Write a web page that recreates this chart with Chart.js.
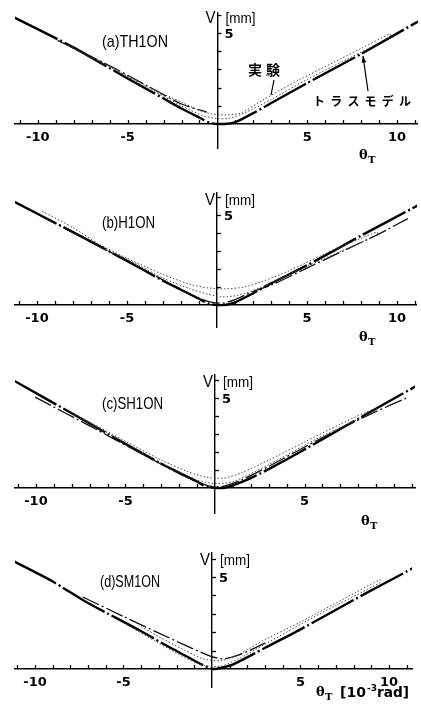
<!DOCTYPE html>
<html><head><meta charset="utf-8">
<script src="https://cdn.jsdelivr.net/npm/chart.js@4/dist/chart.umd.min.js"></script>
<style>
html,body{margin:0;padding:0;background:#fff;}
body{width:421px;height:711px;position:relative;overflow:hidden;}
.p{position:absolute;left:0;width:421px;}
canvas{display:block;}
</style></head><body>
<div class="p" style="top:0px"><canvas id="ca" width="421" height="181"></canvas></div>
<div class="p" style="top:181px"><canvas id="cb" width="421" height="183"></canvas></div>
<div class="p" style="top:364px"><canvas id="cc" width="421" height="181"></canvas></div>
<div class="p" style="top:545px"><canvas id="cd" width="421" height="166"></canvas></div>
<script>
// ---------- data (θT in 10^-3 rad, V in mm) ----------
const titles = ['(a)TH1ON', '(b)H1ON', '(c)SH1ON', '(d)SM1ON'];
const seriesNames = ['トラスモデル', 'トラスモデル(2)', '実験'];

const xTickPosA = [-10, -5, 5, 10], xTickTextA = ['-10', '-5', '5', '10'];
const xTickPosB = [-10, -5, 5, 10], xTickTextB = ['-10', '-5', '5', '10'];
const xTickPosC = [-10, -5, 5],     xTickTextC = ['-10', '-5', '5'];
const xTickPosD = [-10, -5, 5, 10], xTickTextD = ['-10', '-5', '5', '10'];
const yTickPos = [5], yTickText = ['5'];

// (a) TH1ON
const aTrussX = [-11.3, -8, -5, -3, -2, -1, -0.4, 0.4, 1, 2, 3, 5, 8, 11.2];
const aTrussY = [5.85, 4.2, 2.5, 1.4, 0.85, 0.35, 0.05, 0.0, 0.1, 0.6, 1.15, 2.25, 3.85, 5.65];
const aTruss2X = [-8.9, -6, -4, -2, -0.6];
const aTruss2Y = [4.6, 3.2, 2.15, 1.1, 0.65];
const aExpX = [-8.8, -6, -4, -2, -1, -0.3, 0.5, 1.3, 2.5, 4.5, 6.5, 8, 9.6, 9.6, 8, 5, 3, 1.5, 0.6, 0, -0.8, -2, -4, -7];
const aExpY = [4.55, 3.15, 2.1, 1.2, 0.75, 0.55, 0.5, 0.6, 1.3, 2.4, 3.4, 4.15, 4.95, 4.8, 3.95, 2.45, 1.35, 0.6, 0.3, 0.3, 0.45, 1.0, 2.05, 3.7];

// (b) H1ON
const bTrussX = [-11.3, -8, -5, -3, -2, -1, -0.4, 0.4, 1, 2, 3, 5, 8, 11.2];
const bTrussY = [5.75, 4.05, 2.45, 1.35, 0.85, 0.35, 0.05, 0.0, 0.15, 0.65, 1.2, 2.2, 3.85, 5.55];
const bTruss2X = [-9.8, -7, -5, -3, -1.5, -0.5, 0.3, 1, 2, 3, 5, 7, 9, 10.6];
const bTruss2Y = [4.95, 3.5, 2.45, 1.4, 0.6, 0.2, 0.1, 0.3, 0.75, 1.1, 2.05, 3.0, 3.95, 4.8];
const bExpX = [-9.7, -8, -6.5, -5, -3, -1.5, -0.5, 0.5, 1.5, 2.5, 4, 6, 8, 8.9, 8.9, 6, 4, 2.5, 1.2, 0.3, -0.5, -1.5, -3, -5, -6.5];
const bExpY = [5.2, 4.3, 3.35, 2.6, 1.7, 1.15, 0.95, 0.9, 1.0, 1.3, 1.9, 2.85, 3.7, 4.05, 3.9, 2.6, 1.7, 1.0, 0.55, 0.45, 0.6, 0.9, 1.5, 2.55, 3.2];

// (c) SH1ON
const cTrussX = [-11.2, -8, -5, -3, -2, -1, -0.4, 0.4, 1, 2, 3, 4.75, 8, 11.3];
const cTrussY = [5.95, 4.15, 2.45, 1.35, 0.85, 0.35, 0.05, 0.0, 0.15, 0.55, 1.05, 2.0, 3.85, 5.7];
const cTruss2X = [-10.05, -7, -4, -2, -1, -0.3, 0.5, 1.5, 3, 6, 9, 10.7];
const cTruss2Y = [5.05, 3.45, 1.85, 0.8, 0.35, 0.1, 0.1, 0.45, 1.2, 2.8, 4.25, 5.0];
const cExpX = [-8, -5, -3, -1.5, -0.5, 0.5, 1.5, 3, 5, 7, 9, 9, 6, 3, 1, 0, -1, -3, -6, -8];
const cExpY = [4.2, 2.6, 1.55, 0.9, 0.6, 0.55, 0.85, 1.55, 2.55, 3.55, 4.45, 4.3, 2.9, 1.3, 0.35, 0.25, 0.45, 1.4, 3.05, 4.1];

// (d) SM1ON
const dTrussX = [-11.2, -9, -7.3, -6.3, -4, -2.5, -1.5, -0.6, 0.1, 0.6, 1.2, 3, 5, 8, 11.4];
const dTrussY = [5.85, 4.75, 3.75, 3.22, 2.05, 1.23, 0.72, 0.25, 0.0, 0.08, 0.25, 1.15, 2.15, 3.75, 5.5];
const dTruss2X = [-7.3, -5, -3, -1.5, -0.1, 0.6, 1.5, 3];
const dTruss2Y = [3.91, 2.85, 1.95, 1.28, 0.7, 0.55, 0.75, 1.4];
const dExpX = [-4, -3, -1.5, -0.5, 0.5, 1.5, 3, 5, 8, 9.5, 9.5, 6, 3, 1.5, 0.5, -0.5, -1.5, -3, -5];
const dExpY = [2.3, 1.75, 1.0, 0.55, 0.45, 0.8, 1.6, 2.55, 4.1, 4.85, 4.7, 2.95, 1.35, 0.55, 0.15, 0.2, 0.6, 1.4, 2.5];

// ---------- helpers ----------
const pts = (xs, ys) => xs.map((x, i) => ({x: x, y: ys[i]}));
const SANS = '"DejaVu Sans", "Liberation Sans", sans-serif';
const JP = '"Noto Sans CJK JP", sans-serif';

function txt(ctx, s, x, y, font, align, maxW) {
  ctx.font = font; ctx.textAlign = align || 'left'; ctx.textBaseline = 'middle';
  if (maxW) ctx.fillText(s, x, y, maxW); else ctx.fillText(s, x, y);
}
function arrow(ctx, x1, y1, x2, y2) {
  ctx.beginPath(); ctx.moveTo(x1, y1); ctx.lineTo(x2, y2); ctx.stroke();
  const a = Math.atan2(y2 - y1, x2 - x1), L = 7, w = 0.35;
  ctx.beginPath(); ctx.moveTo(x2, y2);
  ctx.lineTo(x2 - L * Math.cos(a - w), y2 - L * Math.sin(a - w));
  ctx.lineTo(x2 - L * Math.cos(a + w), y2 - L * Math.sin(a + w));
  ctx.closePath(); ctx.fill();
}

const axisPlugin = {
  id: 'axisDeco',
  afterDraw(chart) {
    const cfg = chart.config.options.plugins.axisDeco;
    const ctx = chart.ctx, xs = chart.scales.x, ys = chart.scales.y;
    const x0 = xs.getPixelForValue(0), y0 = ys.getPixelForValue(0);
    ctx.save();
    ctx.strokeStyle = '#000'; ctx.fillStyle = '#000'; ctx.lineWidth = 1.3;
    // x tick marks (pointing up)
    xs.ticks.forEach(t => {
      const v = t.value;
      if (Math.abs(v - Math.round(v)) > 1e-6 || Math.round(v) === 0) return;
      const px = Math.round(xs.getPixelForValue(v)) + 0.5;
      ctx.beginPath(); ctx.moveTo(px, y0); ctx.lineTo(px, y0 - 4); ctx.stroke();
    });
    // y tick marks (pointing right)
    ys.ticks.forEach(t => {
      const v = t.value;
      if (Math.abs(v - Math.round(v)) > 1e-6 || Math.round(v) <= 0) return;
      const py = Math.round(ys.getPixelForValue(v)) + 0.5;
      ctx.beginPath(); ctx.moveTo(x0, py); ctx.lineTo(x0 + 4, py); ctx.stroke();
    });
    // y tick labels
    yTickPos.forEach((v, i) => {
      txt(ctx, yTickText[i], x0 + 7, ys.getPixelForValue(v) + 2, 'bold 13px ' + SANS, 'left');
    });
    // axis titles
    const top = chart.chartArea.top;
    txt(ctx, 'V', x0 - 2, top + cfg.vDy, '16px "Liberation Sans", Arial, sans-serif', 'right', 10);
    txt(ctx, '[mm]', x0 + 8, top + cfg.vDy, '15px "Liberation Sans", Arial, sans-serif', 'left', 30);
    // θT
    const tx = cfg.thX, ty = cfg.thY;
    txt(ctx, 'θ', tx, ty, 'bold 13px "DejaVu Serif", serif', 'left');
    txt(ctx, 'T', tx + 9, ty + 4, 'bold 10px "DejaVu Serif", serif', 'left');
    if (cfg.unit) {
      txt(ctx, '[10', tx + 24, ty, 'bold 14px ' + SANS, 'left');
      txt(ctx, '-3', tx + 51, ty - 4, 'bold 9px ' + SANS, 'left');
      txt(ctx, 'rad]', tx + 61, ty, 'bold 14px ' + SANS, 'left', 32);
    }
    // panel title
    txt(ctx, cfg.title, cfg.titleX, cfg.titleY, '17px "Liberation Sans", Arial, sans-serif', 'left', cfg.titleW);
    // legend annotations
    if (cfg.legend) {
      ctx.lineWidth = 1.2;
      txt(ctx, '実', 248, 70, 'bold 14px ' + JP, 'left');
      txt(ctx, '験', 266, 70, 'bold 14px ' + JP, 'left');
      ctx.beginPath(); ctx.moveTo(274, 80); ctx.lineTo(271, 95); ctx.stroke();
      const chars = Array.from('トラスモデル');
      chars.forEach((c, i) => txt(ctx, c, 313 + i * 17.2, 101, 'bold 12px ' + JP, 'left'));
      arrow(ctx, 368, 91, 363, 56);
    }
    ctx.restore();
  }
};

function makeChart(id, p) {
  const datasets = [
    {label: seriesNames[2], data: pts(p.ex, p.ey), borderColor: '#4a4a4a', borderWidth: 1, borderDash: [1.5, 2], tension: 0.25},
    {label: seriesNames[1], data: pts(p.t2x, p.t2y), borderColor: '#111', borderWidth: 1.3, borderDash: [18, 3, 2, 3], tension: 0.25},
    {label: seriesNames[0], data: pts(p.tx, p.ty), borderColor: '#000', borderWidth: 2.4, borderDash: [48, 3, 2, 3], tension: 0.25}
  ];
  const tickCb = (v) => {
    const r = Math.round(v);
    if (Math.abs(v - r) > 1e-6) return '';
    const i = p.xPos.indexOf(r);
    return i >= 0 ? p.xText[i] : '';
  };
  return new Chart(document.getElementById(id), {
    type: 'line',
    data: {datasets},
    options: {
      responsive: false, animation: false, devicePixelRatio: 1,
      layout: {padding: {left: p.padL, right: p.padR, top: p.padT, bottom: p.padB}},
      elements: {point: {radius: 0}, line: {fill: false}},
      plugins: {
        legend: {display: false}, tooltip: {enabled: false},
        axisDeco: p.deco
      },
      scales: {
        x: {
          type: 'linear', min: p.xMin, max: p.xMax, position: {y: 0},
          grid: {display: true, drawOnChartArea: false, drawTicks: false},
          border: {display: true, color: '#000', width: 1.4},
          ticks: {stepSize: 1, includeBounds: false, autoSkip: false, maxRotation: 0, padding: 6,
                  color: '#000', font: {family: SANS, weight: 'bold', size: 13}, callback: tickCb}
        },
        y: {
          type: 'linear', min: p.yMin, max: p.yMax, position: {x: 0},
          grid: {display: true, drawOnChartArea: false, drawTicks: false},
          border: {display: true, color: '#000', width: 1.4},
          ticks: {stepSize: 1, includeBounds: false, display: false}
        }
      }
    },
    plugins: [axisPlugin]
  });
}

makeChart('ca', {
  tx: aTrussX, ty: aTrussY, t2x: aTruss2X, t2y: aTruss2Y, ex: aExpX, ey: aExpY,
  xPos: xTickPosA, xText: xTickTextA,
  xMin: -11.27, xMax: 11.16, yMin: -1.32, yMax: 6.10,
  padL: 15, padR: 0, padT: 13, padB: 33,
  deco: {title: titles[0], titleX: 102, titleY: 42, titleW: 66, vDy: 6, thX: 359, thY: 156, legend: true}
});
makeChart('cb', {
  tx: bTrussX, ty: bTrussY, t2x: bTruss2X, t2y: bTruss2Y, ex: bExpX, ey: bExpY,
  xPos: xTickPosB, xText: xTickTextB,
  xMin: -11.22, xMax: 11.11, yMin: -1.22, yMax: 6.22,
  padL: 15, padR: 4, padT: 12, padB: 37,
  deco: {title: titles[1], titleX: 102, titleY: 42, titleW: 53, vDy: 8, thX: 359, thY: 157}
});
makeChart('cc', {
  tx: cTrussX, ty: cTrussY, t2x: cTruss2X, t2y: cTruss2Y, ex: cExpX, ey: cExpY,
  xPos: xTickPosC, xText: xTickTextC,
  xMin: -11.17, xMax: 11.17, yMin: -1.39, yMax: 6.28,
  padL: 15, padR: 6, padT: 11, padB: 32,
  deco: {title: titles[2], titleX: 102, titleY: 40, titleW: 61, vDy: 8, thX: 361, thY: 158}
});
makeChart('cd', {
  tx: dTrussX, ty: dTrussY, t2x: dTruss2X, t2y: dTruss2Y, ex: dExpX, ey: dExpY,
  xPos: xTickPosD, xText: xTickTextD,
  xMin: -11.13, xMax: 11.3, yMin: -0.98, yMax: 6.3,
  padL: 15, padR: 9, padT: 8, padB: 24,
  deco: {title: titles[3], titleX: 100, titleY: 37, titleW: 60, vDy: 8, thX: 316, thY: 148, unit: true}
});
</script>
</body></html>
